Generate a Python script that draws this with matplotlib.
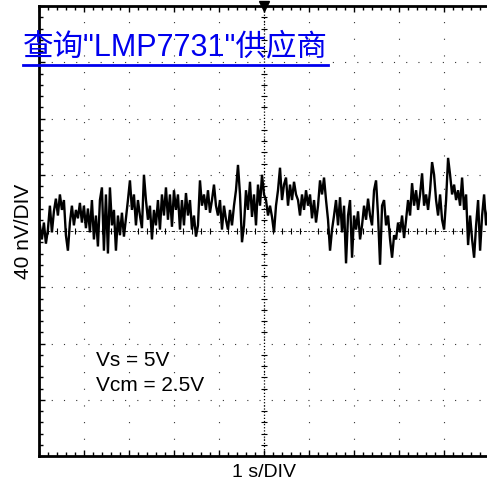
import numpy as np
import matplotlib
matplotlib.use("Agg")
import matplotlib.pyplot as plt
from matplotlib.lines import Line2D

plt.rcParams['font.family'] = ['Liberation Sans', 'Noto Sans CJK SC', 'DejaVu Sans']

# scope settings
x_div = 10          # horizontal divisions, 1 s each
y_div = 8           # vertical divisions, 40 nV each
nv_per_div = 40

title = '查询"LMP7731"供应商'
xlabel = '1 s/DIV'
ylabel = '40 nV/DIV'
notes = ['Vs = 5V', 'Vcm = 2.5V']

# noise trace in nV left to right
noise_nv = [
    4, -6, 6, -9, 1, 18, -1, 14, 23, 11, 26, 15, 22, -3, -14, 6, 18, 4, 15, 9,
    20, 6, 18, 2, 16, -1, 22, -6, 11, -11, 22, 31, -14, 26, -16, 31, 4, 15, -14, 11,
    -3, 13, -4, 9, 22, 36, 15, 26, 4, 22, 11, 2, 40, 22, 8, 18, -6, 15, 4, 22,
    1, 26, 11, 31, 8, 26, 3, 29, 15, 26, 1, 22, 4, 27, 11, 22, 1, 11, -4, 4,
    36, 18, 26, 15, 29, 13, 22, 33, 18, 11, 22, 1, 18, 8, 1, 15, 4, 18, 29, 47,
    26, -8, 4, 29, 15, 35, 10, 26, 4, 33, 18, 40, 26, 22, 11, 18, 10, -1, 18, 29,
    45, 22, 33, 38, 18, 33, 22, 35, 26, 22, 11, 26, 15, 29, 18, 26, 9, 22, 6, 18,
    36, 26, 38, 22, 8, -14, 1, 11, 22, 4, 24, -1, 18, -23, 11, 22, -19, 11, 1, 14,
    -6, 4, 18, 8, 23, 11, 4, 29, 36, 11, -24, 18, 22, 4, 11, -6, -19, -3, -6, 6,
    -1, 11, -5, 8, 22, 11, 34, 18, 29, 15, 26, 41, 18, 26, 15, 29, 49, 40, 22, 11,
    26, 8, 1, 22, 52, 40, 26, 33, 22, 29, 18, 38, 15, 26, -10, 11, -6, -19, 4, 22,
    -14, 11, 26, 4, 15,
]
t_s = np.linspace(0.02, 9.98, len(noise_nv))

fig = plt.figure(figsize=(4.87, 4.82), dpi=100)
ax = fig.add_axes([39 / 487, 26 / 482, 450 / 487, 450 / 482])

ymax = nv_per_div * y_div / 2
ax.set_xlim(0, x_div)
ax.set_ylim(-ymax, ymax)
ax.set_xticks(np.arange(0, x_div + 1))
ax.set_yticks(np.arange(-ymax, ymax + 1, nv_per_div))
ax.set_xticks(np.arange(0, x_div + 0.01, 0.2), minor=True)
ax.set_yticks(np.arange(-ymax, ymax + 0.1, nv_per_div / 5), minor=True)
ax.set_xticklabels([])
ax.set_yticklabels([])
ax.tick_params(which='both', direction='in', top=True, right=False, color='black')
ax.tick_params(which='major', length=4, width=1)
ax.tick_params(which='minor', length=3, width=1)

# dotted graticule
ax.xaxis.grid(True, which='major', color='#333333', linestyle=(0, (1, 14)), linewidth=0.8)
ax.yaxis.grid(True, which='major', color='#333333', linestyle=(0, (1, 10)), linewidth=0.8)

# centre cross of the graticule
xc = sum(ax.get_xlim()) / 2
ax.axvline(xc, color='black', linestyle=(0, (1, 1.5)), linewidth=0.9)
ax.axhline(0, color='#222222', linestyle=(0, (3, 2, 1, 2)), linewidth=0.7)
ymin_t = ax.get_yticks(minor=True)
xmin_t = ax.get_xticks(minor=True)
ax.plot(np.full(len(ymin_t), xc), ymin_t, linestyle='none', marker='_',
        markersize=5, color='black', markeredgewidth=0.8)
ax.plot(xmin_t, np.zeros(len(xmin_t)), linestyle='none', marker='|',
        markersize=4, color='black', markeredgewidth=0.8)

ax.plot(t_s, noise_nv, color='black', linewidth=1.7, solid_joinstyle='miter')

# trigger marker
ax.plot([xc], [ymax], marker='v', color='black', markersize=7, clip_on=False)

for side in ['left', 'top', 'bottom']:
    ax.spines[side].set_linewidth(2)
ax.spines['right'].set_visible(False)

ax.set_xlabel(xlabel, fontsize=14, labelpad=2)
ax.set_ylabel(ylabel, fontsize=15, labelpad=1)

ax.text(1.27, -92, notes[0], fontsize=15, va='center', ha='left')
ax.text(1.27, -110, notes[1], fontsize=15, va='center', ha='left')

t = fig.text(23 / 487, 1 - 55 / 482, title, fontsize=22, color='#0000ee',
             va='baseline', ha='left')
fig.canvas.draw()
bb = t.get_window_extent().transformed(fig.transFigure.inverted())
uy = 1 - 65 / 482
fig.add_artist(Line2D([bb.x0, bb.x1], [uy, uy], color='#0000ee', linewidth=2,
                      transform=fig.transFigure))

fig.savefig('out.png', dpi=100)
